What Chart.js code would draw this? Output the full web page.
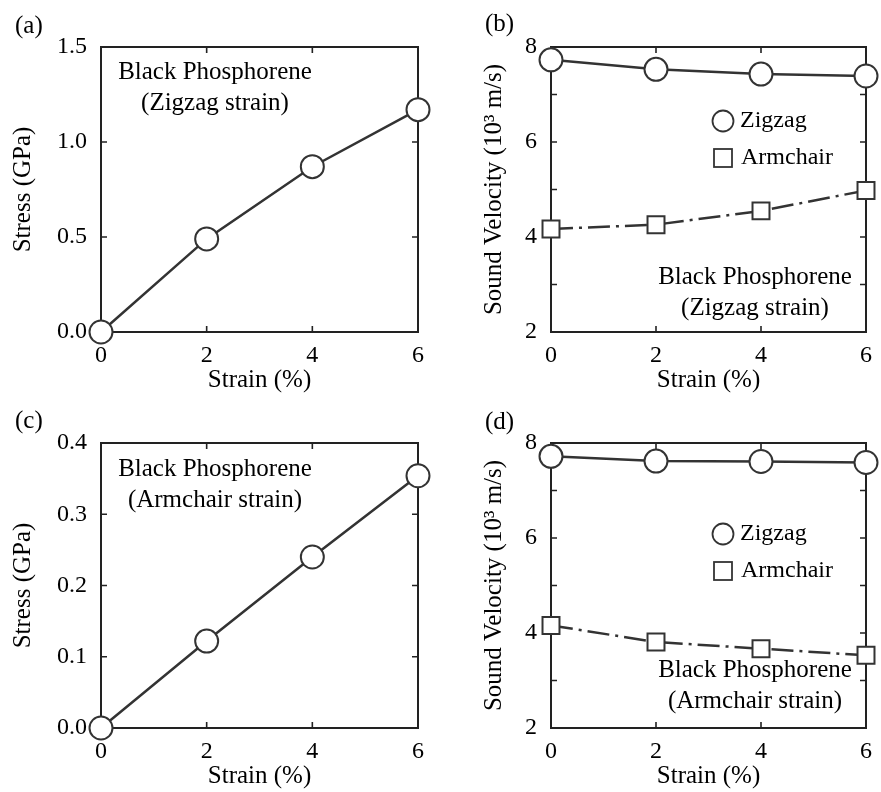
<!DOCTYPE html>
<html>
<head>
<meta charset="utf-8">
<title>Black Phosphorene stress and sound velocity</title>
<script src="https://cdn.jsdelivr.net/npm/chart.js@4.4.1/dist/chart.umd.min.js"></script>
<style>
body { margin: 0; background: #fff; }
#wrap { position: relative; width: 881px; height: 792px; }
canvas { position: absolute; }
</style>
</head>
<body>
<div id="wrap">
<canvas id="chartA" width="440" height="396" style="left:0;top:0"></canvas>
<canvas id="chartB" width="441" height="396" style="left:440px;top:0"></canvas>
<canvas id="chartC" width="440" height="396" style="left:0;top:396px"></canvas>
<canvas id="chartD" width="441" height="396" style="left:440px;top:396px"></canvas>
</div>
<script>
// data
const strain = [0, 2, 4, 6];
const strainTicks = [0, 2, 4, 6];

const stressZigzagStrain = [0, 0.49, 0.87, 1.17];
const stressArmchairStrain = [0, 0.122, 0.24, 0.354];

const velZigzagStrainZZ = [7.73, 7.53, 7.43, 7.39];
const velZigzagStrainAC = [4.17, 4.26, 4.55, 4.98];
const velArmchairStrainZZ = [7.72, 7.62, 7.61, 7.59];
const velArmchairStrainAC = [4.16, 3.81, 3.67, 3.53];

const stressTicksA = [0, 0.5, 1.0, 1.5];
const stressLabelsA = ['0.0', '0.5', '1.0', '1.5'];
const stressTicksC = [0, 0.1, 0.2, 0.3, 0.4];
const stressLabelsC = ['0.0', '0.1', '0.2', '0.3', '0.4'];
const velocityTicks = [2, 3, 4, 5, 6, 7, 8];
const velocityLabels = ['2', '', '4', '', '6', '', '8'];

const panelLabels = ['(a)', '(b)', '(c)', '(d)'];
const material = 'Black Phosphorene';
const strainNotes = ['(Zigzag strain)', '(Armchair strain)'];
const seriesNames = ['Zigzag', 'Armchair'];

const INK = '#333';
const FONT = "'Liberation Serif', 'Times New Roman', serif";
const DASHDOT = [22, 6, 3, 6];

function pts(ys) {
    return strain.map((x, i) => ({x: x, y: ys[i]}));
}

function series(label, ys, style, dash) {
    return {
        label: label,
        data: pts(ys),
        borderColor: INK,
        borderWidth: 2.5,
        borderDash: dash || [],
        pointStyle: style,
        pointRadius: style === 'rect' ? 12 : 11.5,
        pointBackgroundColor: '#fff',
        pointBorderColor: INK,
        pointBorderWidth: 2,
        clip: false,
        tension: 0
    };
}

// box round the plot with inward ticks on all four sides
const framePlugin = {
    id: 'frame',
    beforeDatasetsDraw(chart) {
        const ctx = chart.ctx, a = chart.chartArea;
        const x = chart.scales.x, y = chart.scales.y;
        ctx.save();
        ctx.strokeStyle = '#222';
        ctx.lineWidth = 1.6;
        ctx.beginPath();
        x.ticks.forEach(t => {
            const px = x.getPixelForValue(t.value);
            ctx.moveTo(px, a.bottom); ctx.lineTo(px, a.bottom - 6);
            ctx.moveTo(px, a.top); ctx.lineTo(px, a.top + 6);
        });
        y.ticks.forEach(t => {
            const py = y.getPixelForValue(t.value);
            ctx.moveTo(a.left, py); ctx.lineTo(a.left + 6, py);
            ctx.moveTo(a.right, py); ctx.lineTo(a.right - 6, py);
        });
        ctx.stroke();
        ctx.lineWidth = 2;
        ctx.strokeRect(a.left, a.top, a.right - a.left, a.bottom - a.top);
        ctx.restore();
    }
};

// panel letter, material note and the little legend
const notesPlugin = {
    id: 'notes',
    afterDatasetsDraw(chart, args, o) {
        const ctx = chart.ctx;
        ctx.save();
        ctx.fillStyle = '#000';
        ctx.textBaseline = 'middle';
        ctx.font = '25px ' + FONT;
        ctx.textAlign = 'left';
        ctx.fillText(o.panel, o.panelX, o.panelY);
        ctx.textAlign = 'center';
        o.lines.forEach((t, i) => ctx.fillText(t, o.noteX, o.noteY + i * 31));
        if (o.legendY) {
            ctx.strokeStyle = INK;
            ctx.lineWidth = 1.8;
            ctx.fillStyle = '#fff';
            ctx.beginPath();
            ctx.arc(o.legendX, o.legendY, 10.5, 0, Math.PI * 2);
            ctx.fill(); ctx.stroke();
            ctx.fillRect(o.legendX - 9, o.legendY + 37 - 9, 18, 18);
            ctx.strokeRect(o.legendX - 9, o.legendY + 37 - 9, 18, 18);
            ctx.fillStyle = '#000';
            ctx.textAlign = 'left';
            ctx.font = '24px ' + FONT;
            ctx.fillText(seriesNames[0], o.legendX + 17, o.legendY);
            ctx.fillText(seriesNames[1], o.legendX + 18, o.legendY + 37);
        }
        ctx.restore();
    }
};

function makeChart(id, datasets, yOpts, notes, yWidth, padRight, yTitlePad) {
    return new Chart(id, {
        type: 'line',
        data: {datasets: datasets},
        options: {
            responsive: false,
            animation: false,
            layout: {autoPadding: false, padding: {left: 0, right: padRight, top: 47, bottom: 0}},
            plugins: {
                legend: {display: false},
                tooltip: {enabled: false},
                notes: notes
            },
            scales: {
                x: {
                    type: 'linear', min: 0, max: 6,
                    afterBuildTicks: s => { s.ticks = strainTicks.map(v => ({value: v})); },
                    afterFit: s => { s.height = 64; },
                    grid: {display: false, drawTicks: false},
                    border: {display: false},
                    ticks: {color: '#000', font: {family: FONT, size: 24}, padding: 9,
                        autoSkip: false, maxRotation: 0, callback: v => String(v)},
                    title: {display: true, text: 'Strain (%)', color: '#000',
                        font: {family: FONT, size: 25}, padding: {top: 0, bottom: 1}}
                },
                y: {
                    type: 'linear', min: yOpts.min, max: yOpts.max,
                    afterBuildTicks: s => { s.ticks = yOpts.ticks.map(v => ({value: v})); },
                    afterFit: s => { s.width = yWidth; },
                    grid: {display: false, drawTicks: false},
                    border: {display: false},
                    ticks: {color: '#000', font: {family: FONT, size: 24}, padding: 14,
                        autoSkip: false, callback: (v, i) => yOpts.labels[i]},
                    title: {display: true, text: yOpts.title, color: '#000',
                        font: {family: FONT, size: 25}, padding: {top: yTitlePad, bottom: 0}}
                }
            }
        },
        plugins: [framePlugin, notesPlugin]
    });
}

makeChart('chartA',
    [series('Zigzag', stressZigzagStrain, 'circle')],
    {min: 0, max: 1.5, ticks: stressTicksA, labels: stressLabelsA, title: 'Stress (GPa)'},
    {panel: panelLabels[0], panelX: 15, panelY: 26, lines: [material, strainNotes[0]], noteX: 215, noteY: 72},
    101, 22, 8);

makeChart('chartB',
    [series('Zigzag', velZigzagStrainZZ, 'circle'),
     series('Armchair', velZigzagStrainAC, 'rect', DASHDOT)],
    {min: 2, max: 8, ticks: velocityTicks, labels: velocityLabels, title: 'Sound Velocity (10\u00b3 m/s)'},
    {panel: panelLabels[1], panelX: 45, panelY: 24, lines: [material, strainNotes[0]], noteX: 315, noteY: 277,
     legendX: 283, legendY: 121},
    111, 14, 39);

makeChart('chartC',
    [series('Zigzag', stressArmchairStrain, 'circle')],
    {min: 0, max: 0.4, ticks: stressTicksC, labels: stressLabelsC, title: 'Stress (GPa)'},
    {panel: panelLabels[2], panelX: 15, panelY: 25, lines: [material, strainNotes[1]], noteX: 215, noteY: 73},
    101, 22, 8);

makeChart('chartD',
    [series('Zigzag', velArmchairStrainZZ, 'circle'),
     series('Armchair', velArmchairStrainAC, 'rect', DASHDOT)],
    {min: 2, max: 8, ticks: velocityTicks, labels: velocityLabels, title: 'Sound Velocity (10\u00b3 m/s)'},
    {panel: panelLabels[3], panelX: 45, panelY: 26, lines: [material, strainNotes[1]], noteX: 315, noteY: 274,
     legendX: 283, legendY: 138},
    111, 14, 39);
</script>
</body>
</html>
